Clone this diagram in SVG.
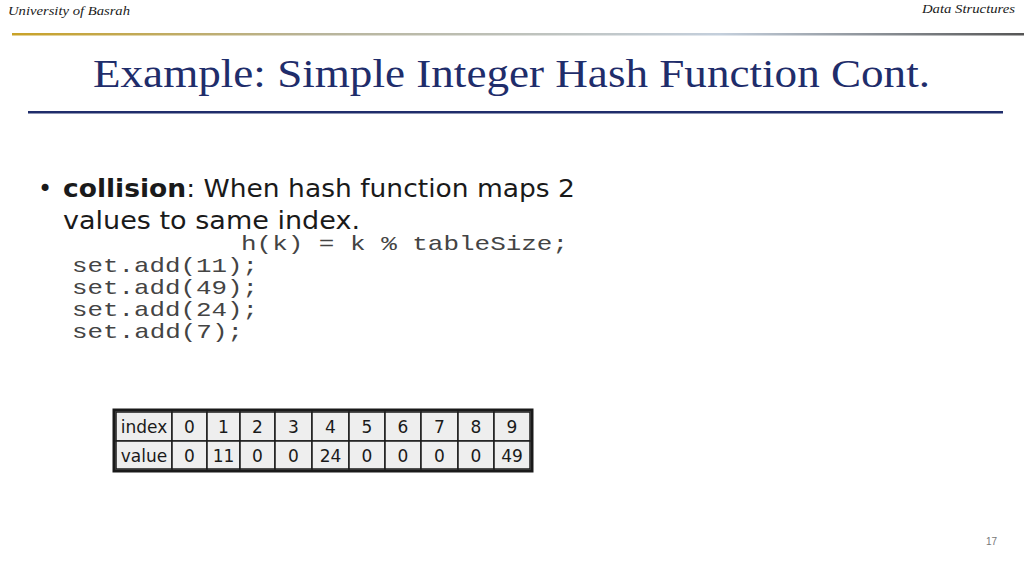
<svg xmlns="http://www.w3.org/2000/svg" width="1024" height="576" viewBox="0 0 1024 576">
<style>
.hdr{font-family:"Liberation Serif",serif;font-style:italic;font-size:12px;fill:#1a1a1a}
.title{font-family:"Liberation Serif",serif;font-size:41px;fill:#1f2d6b}
.body{font-family:"DejaVu Sans",sans-serif;font-size:24px;fill:#1a1a1a}
.code{font-family:"Liberation Mono",monospace;font-size:21px;fill:#444}
.cell{fill:#eeeeee;stroke:#1a1a1a;stroke-width:1.5}
.ct{font-family:"DejaVu Sans",sans-serif;font-size:17px;fill:#1a1a1a;text-anchor:middle}
</style>
<defs>
<linearGradient id="g" x1="0" x2="1" y1="0" y2="0">
<stop offset="0" stop-color="#c9a227"/>
<stop offset="0.3" stop-color="#b8b49a"/>
<stop offset="0.7" stop-color="#c4cfdc"/>
<stop offset="1" stop-color="#555"/>
</linearGradient>
</defs>
<rect width="1024" height="576" fill="#fff"/>
<text class="hdr" x="8" y="15" textLength="122" lengthAdjust="spacingAndGlyphs">University of Basrah</text>
<text class="hdr" x="922" y="13" textLength="93" lengthAdjust="spacingAndGlyphs">Data Structures</text>
<rect x="12" y="33" width="1012" height="2.5" fill="url(#g)"/>
<text class="title" x="93" y="87" textLength="837" lengthAdjust="spacingAndGlyphs">Example: Simple Integer Hash Function Cont.</text>
<rect x="28" y="111" width="975" height="2.5" fill="#1f2d6b"/>
<text class="body" x="38" y="197">•</text>
<text class="body" x="63" y="197" textLength="512" lengthAdjust="spacingAndGlyphs"><tspan font-weight="bold">collision</tspan>: When hash function maps 2</text>
<text class="body" x="63" y="229" textLength="297" lengthAdjust="spacingAndGlyphs">values to same  index.</text>
<text class="code" x="241" y="250" textLength="327" lengthAdjust="spacingAndGlyphs">h(k) = k % tableSize;</text>
<text class="code" x="72" y="272" textLength="186" lengthAdjust="spacingAndGlyphs">set.add(11);</text>
<text class="code" x="72" y="294" textLength="186" lengthAdjust="spacingAndGlyphs">set.add(49);</text>
<text class="code" x="72" y="316" textLength="186" lengthAdjust="spacingAndGlyphs">set.add(24);</text>
<text class="code" x="72" y="338" textLength="171" lengthAdjust="spacingAndGlyphs">set.add(7);</text>
<g id="table">
<rect x="114" y="410" width="418" height="61" fill="none" stroke="#1a1a1a" stroke-width="3"/>
<g id="row-index">
<rect class="cell" x="116" y="412" width="56" height="29"/><text class="ct" x="144" y="433">index</text>
<rect class="cell" x="172" y="412" width="35" height="29"/><text class="ct" x="189.5" y="433">0</text>
<rect class="cell" x="207" y="412" width="33" height="29"/><text class="ct" x="223.5" y="433">1</text>
<rect class="cell" x="240" y="412" width="35" height="29"/><text class="ct" x="257.5" y="433">2</text>
<rect class="cell" x="275" y="412" width="37" height="29"/><text class="ct" x="293.5" y="433">3</text>
<rect class="cell" x="312" y="412" width="37" height="29"/><text class="ct" x="330.5" y="433">4</text>
<rect class="cell" x="349" y="412" width="36" height="29"/><text class="ct" x="367" y="433">5</text>
<rect class="cell" x="385" y="412" width="36" height="29"/><text class="ct" x="403" y="433">6</text>
<rect class="cell" x="421" y="412" width="37" height="29"/><text class="ct" x="439.5" y="433">7</text>
<rect class="cell" x="458" y="412" width="36" height="29"/><text class="ct" x="476" y="433">8</text>
<rect class="cell" x="494" y="412" width="36" height="29"/><text class="ct" x="512" y="433">9</text>
</g>
<g id="row-value">
<rect class="cell" x="116" y="441" width="56" height="28"/><text class="ct" x="144" y="462">value</text>
<rect class="cell" x="172" y="441" width="35" height="28"/><text class="ct" x="189.5" y="462">0</text>
<rect class="cell" x="207" y="441" width="33" height="28"/><text class="ct" x="223.5" y="462">11</text>
<rect class="cell" x="240" y="441" width="35" height="28"/><text class="ct" x="257.5" y="462">0</text>
<rect class="cell" x="275" y="441" width="37" height="28"/><text class="ct" x="293.5" y="462">0</text>
<rect class="cell" x="312" y="441" width="37" height="28"/><text class="ct" x="330.5" y="462">24</text>
<rect class="cell" x="349" y="441" width="36" height="28"/><text class="ct" x="367" y="462">0</text>
<rect class="cell" x="385" y="441" width="36" height="28"/><text class="ct" x="403" y="462">0</text>
<rect class="cell" x="421" y="441" width="37" height="28"/><text class="ct" x="439.5" y="462">0</text>
<rect class="cell" x="458" y="441" width="36" height="28"/><text class="ct" x="476" y="462">0</text>
<rect class="cell" x="494" y="441" width="36" height="28"/><text class="ct" x="512" y="462">49</text>
</g>
</g>
<text x="997" y="545" font-family="Liberation Sans,sans-serif" font-size="10" fill="#777" text-anchor="end">17</text>
</svg>
